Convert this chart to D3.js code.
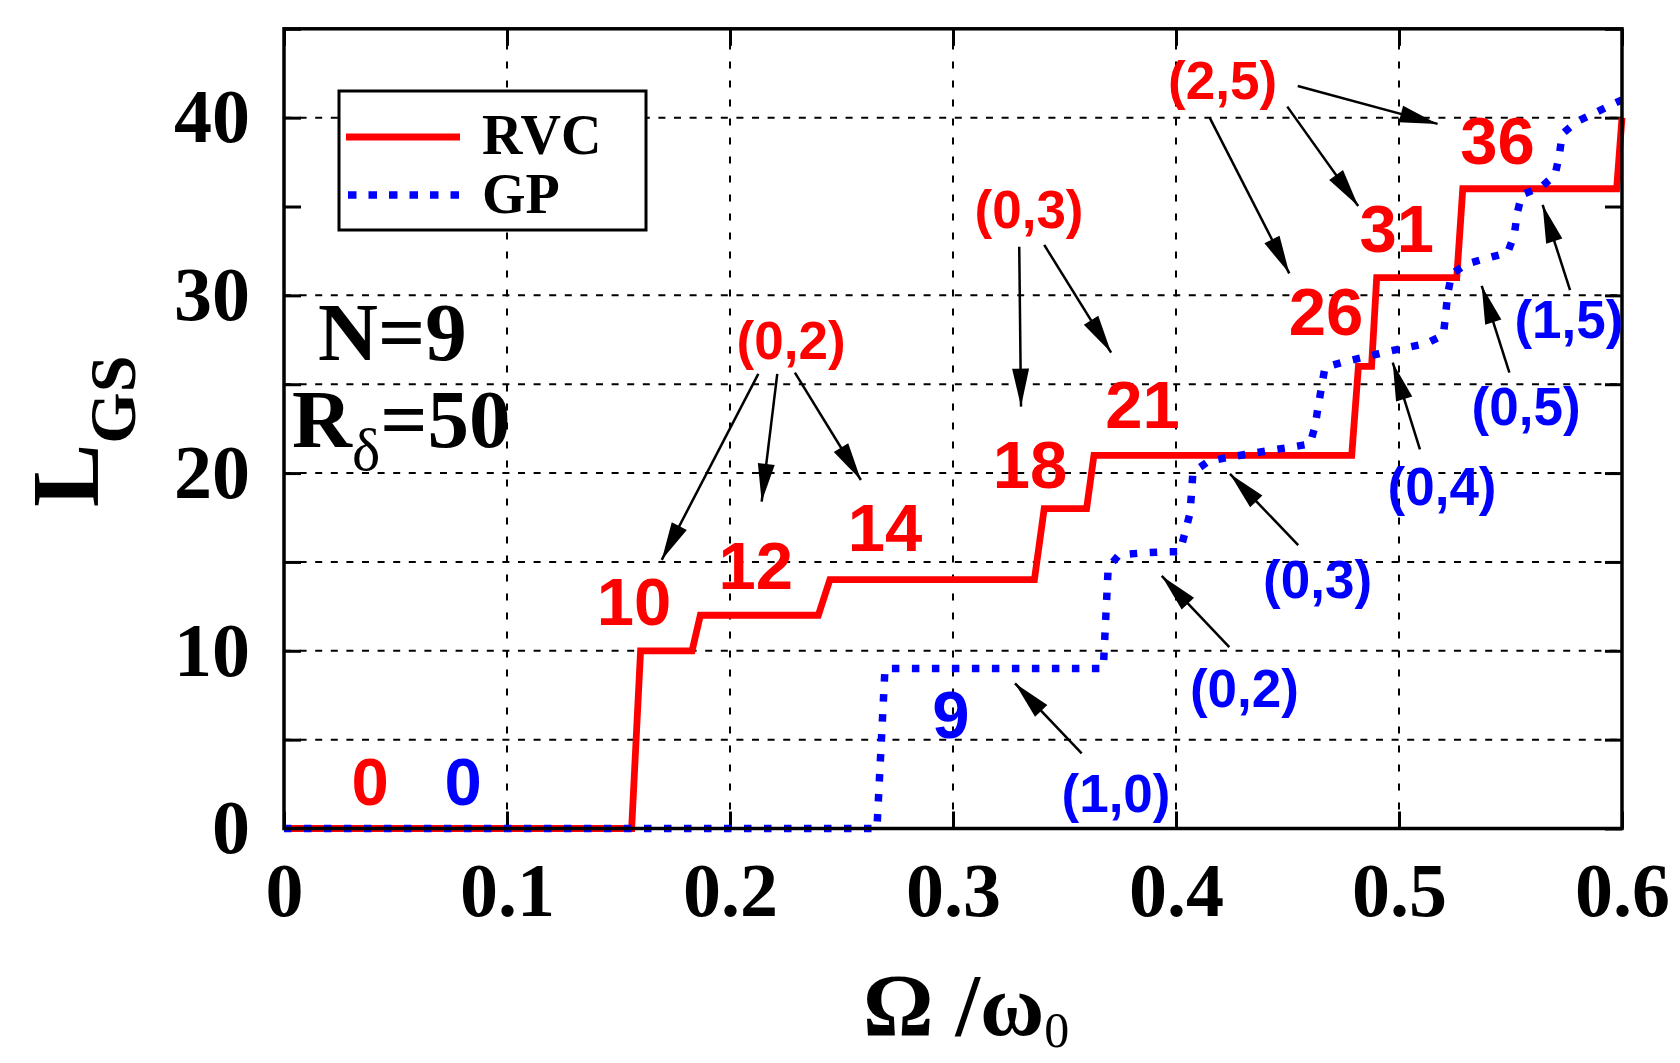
<!DOCTYPE html>
<html>
<head>
<meta charset="utf-8">
<script src="https://cdn.jsdelivr.net/npm/d3@7"></script>
<style>
  body { margin: 0; background: #fff; }
</style>
</head>
<body>
<div id="chart"></div>
<script>
// ---- data ----
const rvcOmega = [0, 0.1559, 0.1599, 0.1830, 0.1867, 0.2396, 0.2448, 0.3365, 0.3409, 0.3599, 0.3632,
  0.4788, 0.4818, 0.4877, 0.4900, 0.5259, 0.5286, 0.5976, 0.6];
const rvcL = [0, 0, 10, 10, 12, 12, 14, 14, 18, 18, 21, 21, 26, 26, 31, 31, 36, 36, 40];

const gpOmega = [0, 0.2659, 0.2695, 0.3674, 0.3696, 0.3744, 0.3843, 0.3933, 0.4018, 0.4063, 0.4076,
  0.4143, 0.4233, 0.4323, 0.4413, 0.4511, 0.4601, 0.4623, 0.4637, 0.4653, 0.4668, 0.4758, 0.4855,
  0.4945, 0.5034, 0.5124, 0.5199, 0.5209, 0.5218, 0.5236, 0.5303, 0.5393, 0.5487, 0.5517, 0.5530,
  0.5550, 0.5640, 0.5700, 0.5719, 0.5732, 0.5797, 0.5883, 0.5966, 0.6];
const gpL = [0, 0, 9, 9, 14.7, 15.39, 15.5, 15.56, 15.58, 17.75, 20.05,
  20.64, 20.89, 21.07, 21.26, 21.45, 21.64, 22.61, 23.7, 24.86, 25.95, 26.27, 26.55,
  26.83, 27.06, 27.3, 27.77, 28.9, 30.06, 31.2, 31.77, 32.09, 32.4, 33.4, 34.62,
  35.65, 36.12, 36.78, 37.9, 39.08, 39.78, 40.3, 40.81, 41];

const xTicks = [0, 0.1, 0.2, 0.3, 0.4, 0.5, 0.6];
const yTicks = [0, 5, 10, 15, 20, 25, 30, 35, 40, 45];
const yTickLabels = [0, 10, 20, 30, 40];
const xGrid = [0.1, 0.2, 0.3, 0.4, 0.5];
const yGrid = [5, 10, 15, 20, 25, 30, 40];

// annotations: [text, omega, L]
const rvcLevelLabels = [["0", 0.0386, 1.32], ["10", 0.157, 11.45], ["12", 0.2115, 13.46], ["14", 0.2695, 15.63],
  ["18", 0.3345, 19.16], ["21", 0.385, 22.52], ["26", 0.4673, 27.77], ["31", 0.499, 32.46], ["36", 0.5442, 37.39]];
const gpLevelLabels = [["0", 0.0803, 1.32], ["9", 0.2991, 5.09]];
const rvcModeLabels = [["(0,2)", 0.2274, 26.40], ["(0,3)", 0.3341, 33.78], ["(2,5)", 0.4209, 41.04]];
const gpModeLabels = [["(1,0)", 0.3731, 0.95], ["(0,2)", 0.4307, 6.84], ["(0,3)", 0.4635, 12.95],
  ["(0,4)", 0.5193, 18.20], ["(0,5)", 0.5570, 22.71], ["(1,5)", 0.5762, 27.59]];

// arrows: [omega0, L0, omega1, L1] (tail -> head)
const arrows = [
  [0.2127, 25.58, 0.1694, 15.12], [0.2212, 25.58, 0.2142, 18.39], [0.2291, 25.65, 0.2587, 19.61],
  [0.3297, 32.74, 0.3305, 23.74], [0.3409, 32.84, 0.3709, 26.78],
  [0.4152, 39.97, 0.4508, 31.24], [0.4499, 40.62, 0.4817, 35.03], [0.4546, 41.78, 0.5173, 39.65],
  [0.3577, 4.23, 0.3278, 8.17], [0.4239, 10.20, 0.3936, 14.21], [0.4548, 15.95, 0.4242, 19.95],
  [0.5094, 21.34, 0.4972, 26.21], [0.5495, 25.65, 0.5371, 30.53], [0.5767, 30.30, 0.5644, 35.09]
];

// ---- drawing ----
const width = 1680, height = 1063;
const serif = "'Liberation Serif', 'Times New Roman', serif";
const sans = "'Liberation Sans', Arial, sans-serif";
const RED = "#ff0000", BLUE = "#0000ff";

const svg = d3.select("#chart").append("svg")
    .attr("width", width)
    .attr("height", height)
    .style("display", "block");

const x = d3.scaleLinear().domain([0, 0.6]).range([284, 1622]);
const y = d3.scaleLinear().domain([0, 45]).range([828.5, 28.8]);

// grid
svg.append("g").selectAll("line").data(yGrid).join("line")
    .attr("x1", x(0)).attr("x2", x(0.6))
    .attr("y1", d => y(d)).attr("y2", d => y(d))
    .attr("stroke", "#000").attr("stroke-width", 2)
    .attr("stroke-dasharray", "7,8.6");
svg.append("g").selectAll("line").data(xGrid).join("line")
    .attr("x1", d => x(d)).attr("x2", d => x(d))
    .attr("y1", y(0)).attr("y2", y(45))
    .attr("stroke", "#000").attr("stroke-width", 2)
    .attr("stroke-dasharray", "7,12");

// axes
const tickLen = 17;
const ax = svg.append("g");
ax.append("g").attr("transform", `translate(${x(0)},0)`)
    .call(d3.axisLeft(y).tickValues(yTicks).tickSize(-tickLen).tickPadding(34)
      .tickFormat(d => yTickLabels.includes(d) ? d : ""));
ax.append("g").attr("transform", `translate(0,${y(0)})`)
    .call(d3.axisBottom(x).tickValues(xTicks).tickSize(-tickLen).tickPadding(34)
      .tickFormat(d => String(d)));
ax.append("g").attr("transform", `translate(${x(0.6)},0)`)
    .call(d3.axisRight(y).tickValues(yTicks).tickSize(-tickLen).tickFormat(""));
ax.append("g").attr("transform", `translate(0,${y(45)})`)
    .call(d3.axisTop(x).tickValues(xTicks).tickSize(-tickLen).tickFormat(""));
ax.selectAll(".domain").remove();
ax.selectAll(".tick line").attr("stroke", "#000").attr("stroke-width", 3);
ax.selectAll(".tick text")
    .attr("fill", "#000")
    .style("font-family", serif)
    .style("font-weight", "bold")
    .style("font-size", "76px");

// legend box (opaque)
const leg = svg.append("g");
leg.append("rect").attr("x", 339).attr("y", 91).attr("width", 307).attr("height", 139)
    .attr("fill", "#fff").attr("stroke", "#000").attr("stroke-width", 3);

// curves
const line = d3.line().x(d => x(d[0])).y(d => y(d[1]));
svg.append("path")
    .datum(rvcOmega.map((o, i) => [o, rvcL[i]]))
    .attr("d", line)
    .attr("fill", "none").attr("stroke", RED).attr("stroke-width", 6.8)
    .attr("stroke-linejoin", "miter");
svg.append("path")
    .datum(gpOmega.map((o, i) => [o, gpL[i]]))
    .attr("d", line)
    .attr("fill", "none").attr("stroke", BLUE).attr("stroke-width", 7.5)
    .attr("stroke-dasharray", "7.5,12.5");

// frame
svg.append("rect")
    .attr("x", x(0)).attr("y", y(45))
    .attr("width", x(0.6) - x(0)).attr("height", y(0) - y(45))
    .attr("fill", "none").attr("stroke", "#000").attr("stroke-width", 3.5);

// legend content
leg.append("line").attr("x1", 346).attr("x2", 460).attr("y1", 137).attr("y2", 137)
    .attr("stroke", RED).attr("stroke-width", 6.8);
leg.append("line").attr("x1", 348).attr("x2", 462).attr("y1", 195).attr("y2", 195)
    .attr("stroke", BLUE).attr("stroke-width", 7.5).attr("stroke-dasharray", "8.5,12");
leg.raise();
leg.selectAll("text").data(["RVC", "GP"]).join("text")
    .attr("x", 482).attr("y", (d, i) => 154 + i * 59)
    .style("font-family", serif).style("font-weight", "bold").style("font-size", "56px")
    .text(d => d);

// arrows
const defs = svg.append("defs");
defs.append("marker")
    .attr("id", "head")
    .attr("viewBox", "-40 -10 42 20")
    .attr("refX", 0).attr("refY", 0)
    .attr("markerWidth", 42).attr("markerHeight", 20)
    .attr("markerUnits", "userSpaceOnUse")
    .attr("orient", "auto")
  .append("path")
    .attr("d", "M0,0L-38,-8.5L-38,8.5Z")
    .attr("fill", "#000");
svg.append("g").selectAll("line").data(arrows).join("line")
    .attr("x1", d => x(d[0])).attr("y1", d => y(d[1]))
    .attr("x2", d => x(d[2])).attr("y2", d => y(d[3]))
    .attr("stroke", "#000").attr("stroke-width", 2.5)
    .attr("marker-end", "url(#head)");

// labels
function labels(data, color, size) {
  svg.append("g").selectAll("text").data(data).join("text")
      .attr("x", d => x(d[1])).attr("y", d => y(d[2]))
      .attr("text-anchor", "middle")
      .attr("fill", color)
      .style("font-family", sans).style("font-weight", "bold").style("font-size", size + "px")
      .text(d => d[0]);
}
labels(rvcLevelLabels, RED, 67);
labels(gpLevelLabels, BLUE, 67);
labels(rvcModeLabels, RED, 53);
labels(gpModeLabels, BLUE, 53);

// parameter text
svg.append("text").attr("x", 318).attr("y", 360)
    .style("font-family", serif).style("font-weight", "bold").style("font-size", "83px")
    .text("N=9");
const rd = svg.append("text").attr("x", 292).attr("y", 447)
    .style("font-family", serif).style("font-weight", "bold").style("font-size", "83px");
rd.append("tspan").text("R");
rd.append("tspan").attr("dy", 23).style("font-weight", "normal").style("font-size", "60px").text("δ");
rd.append("tspan").attr("dy", -23).text("=50");

// axis titles
const xt = svg.append("text").attr("x", 863).attr("y", 1035)
    .style("font-family", serif).style("font-weight", "bold").style("font-size", "88px");
xt.append("tspan").text("Ω /ω");
xt.append("tspan").attr("dy", 12).style("font-weight", "normal").style("font-size", "50px").text("0");

const yt = svg.append("text").attr("transform", "translate(98,507) rotate(-90)")
    .style("font-family", serif).style("font-weight", "bold").style("font-size", "95px");
yt.append("tspan").text("L");
yt.append("tspan").attr("dy", 37).style("font-size", "66px").text("GS");
</script>
</body>
</html>
